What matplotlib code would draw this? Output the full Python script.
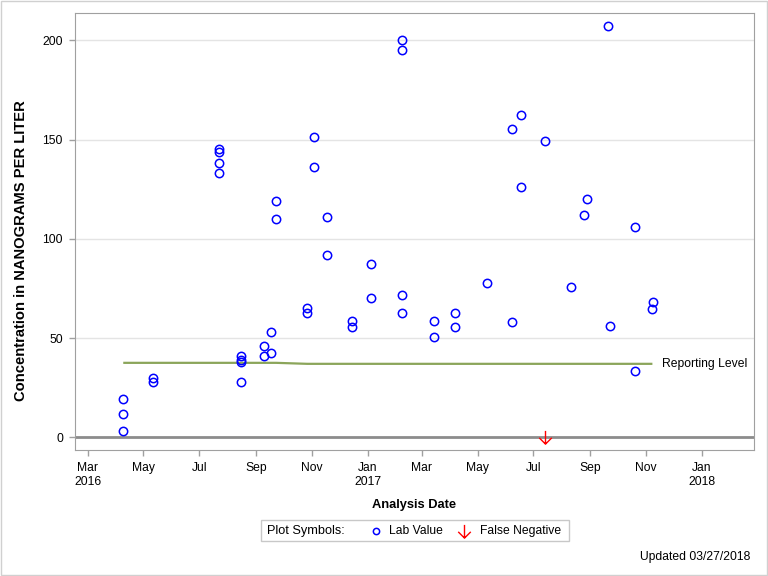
import datetime as dt

import matplotlib
matplotlib.use('Agg')
import matplotlib.pyplot as plt
import matplotlib.dates as mdates
from matplotlib.path import Path
from matplotlib.lines import Line2D
from matplotlib.patches import Rectangle

plt.rcParams['font.family'] = ['Liberation Sans', 'DejaVu Sans']

# --- dane -----------------------------------------------------------------
lab_dates = [
    '2016-04-09', '2016-04-09', '2016-04-09',
    '2016-05-11', '2016-05-11',
    '2016-07-23', '2016-07-23', '2016-07-23', '2016-07-23',
    '2016-08-16', '2016-08-16', '2016-08-16', '2016-08-16',
    '2016-09-10', '2016-09-10',
    '2016-09-17', '2016-09-17',
    '2016-09-23', '2016-09-23',
    '2016-10-27', '2016-10-27',
    '2016-11-03', '2016-11-03',
    '2016-11-18', '2016-11-18',
    '2016-12-15', '2016-12-15',
    '2017-01-05', '2017-01-05',
    '2017-02-07', '2017-02-07', '2017-02-07', '2017-02-07',
    '2017-03-14', '2017-03-14',
    '2017-04-06', '2017-04-06',
    '2017-05-11',
    '2017-06-08', '2017-06-08',
    '2017-06-17', '2017-06-17',
    '2017-07-14',
    '2017-08-11',
    '2017-08-25',
    '2017-08-29',
    '2017-09-21',
    '2017-09-23',
    '2017-10-20', '2017-10-20',
    '2017-11-08',
    '2017-11-09',
]
lab_values = [
    19.1, 11.6, 3.0,
    29.9, 27.7,
    145.2, 143.9, 138.0, 133.0,
    40.8, 38.9, 37.8, 27.7,
    45.8, 41.1,
    52.9, 42.3,
    118.9, 109.8,
    65.0, 62.5,
    151.1, 136.0,
    110.8, 91.7,
    58.4, 55.4,
    87.2, 70.0,
    200.0, 195.0, 71.5, 62.5,
    58.4, 50.4,
    62.5, 55.4,
    77.6,
    57.9, 155.2,
    162.2, 125.9,
    149.1,
    75.6,
    111.8,
    119.9,
    207.1,
    55.9,
    105.8, 33.2,
    64.5,
    68.0,
]

false_neg_dates = ['2017-07-14']
false_neg_values = [0.0]

rl_dates = ['2016-04-09', '2016-09-23', '2016-10-27', '2017-11-08']
rl_values = [37.5, 37.5, 37.0, 37.0]

y_ticks = [0, 50, 100, 150, 200]


def do_daty(lista):
    return [dt.datetime.strptime(d, '%Y-%m-%d') for d in lista]


# marker strzalki w dol
strzalka = Path([(0, 1), (0, -1), (-0.95, -0.05), (0, -1), (0.95, -0.05)],
                [Path.MOVETO, Path.LINETO, Path.MOVETO, Path.LINETO, Path.LINETO])

fig = plt.figure(figsize=(7.68, 5.76), dpi=100)
ax = fig.add_axes([0.0973, 0.2188, 0.8845, 0.7581])

# siatka i linia zera
for yv in y_ticks[1:]:
    ax.axhline(yv, color='#E4E4E4', linewidth=1, zorder=0)
ax.axhline(0, color='#8C8C8C', linewidth=2, zorder=1)

# poziom raportowania
ax.plot(do_daty(rl_dates), rl_values, color='#8BA55A', linewidth=1.6,
        solid_capstyle='butt', zorder=2)
ax.annotate('Reporting Level', xy=(do_daty(rl_dates)[-1], rl_values[-1]),
            xytext=(7, 0), textcoords='offset points',
            ha='left', va='center', fontsize=8.7)

# punkty
ax.plot(do_daty(lab_dates), lab_values, linestyle='none', marker='o',
        markersize=6, markerfacecolor='none', markeredgecolor='#0000FF',
        markeredgewidth=1.1, zorder=3)
ax.plot(do_daty(false_neg_dates), false_neg_values, linestyle='none',
        marker=strzalka, markersize=9.5, markerfacecolor='none',
        markeredgecolor='#FF0000', markeredgewidth=1.0, zorder=4)

# osie
ax.set_xlim(dt.datetime(2016, 2, 16), dt.datetime(2018, 2, 27))
ax.set_ylim(-6.4, 213.6)
ax.set_yticks(y_ticks)
ax.xaxis.set_major_locator(mdates.MonthLocator(bymonth=[1, 3, 5, 7, 9, 11]))


def etykieta(x, pos):
    d = mdates.num2date(x)
    txt = d.strftime('%b')
    if d.month == 1 or pos == 0:
        txt += '\n' + str(d.year)
    return txt


ax.xaxis.set_major_formatter(plt.FuncFormatter(etykieta))
ax.tick_params(axis='both', direction='out', length=4.5, width=1,
               color='#A0A0A0', labelsize=8.7, pad=4)
for sp in ax.spines.values():
    sp.set_color('#A0A0A0')

ax.set_xlabel('Analysis Date', fontsize=9.3, fontweight='bold', labelpad=8)
ax.set_ylabel('Concentration in NANOGRAMS PER LITER', fontsize=10.6,
              fontweight='bold')
ax.yaxis.set_label_coords(-0.069, 0.4557)

# legenda (recznie)
fig.patches.append(Rectangle((0.3395, 0.0613), 0.401, 0.0354,
                             transform=fig.transFigure, fill=False,
                             edgecolor='#C8C8C8', linewidth=1))
ly = 0.0786
fig.text(0.3473, ly, 'Plot Symbols:', ha='left', va='center', fontsize=9.2)
fig.lines.append(Line2D([0.49], [ly], transform=fig.transFigure,
                        marker='o', markersize=4.5, markerfacecolor='none',
                        markeredgecolor='#0000FF', markeredgewidth=1.1))
fig.text(0.5069, ly, 'Lab Value', ha='left', va='center', fontsize=8.7)
fig.lines.append(Line2D([0.6046], [ly], transform=fig.transFigure,
                        marker=strzalka, markersize=9.5, markerfacecolor='none',
                        markeredgecolor='#FF0000', markeredgewidth=1.0))
fig.text(0.625, ly, 'False Negative', ha='left', va='center', fontsize=8.7)

fig.text(0.9766, 0.0335, 'Updated 03/27/2018', ha='right', va='center',
         fontsize=8.7)

# ramka calego obrazka
fig.patches.append(Rectangle((0.0007, 0.0009), 0.9986, 0.9982,
                             transform=fig.transFigure, fill=False,
                             edgecolor='#D0D0D0', linewidth=1))

fig.savefig('out.png', dpi=100)
